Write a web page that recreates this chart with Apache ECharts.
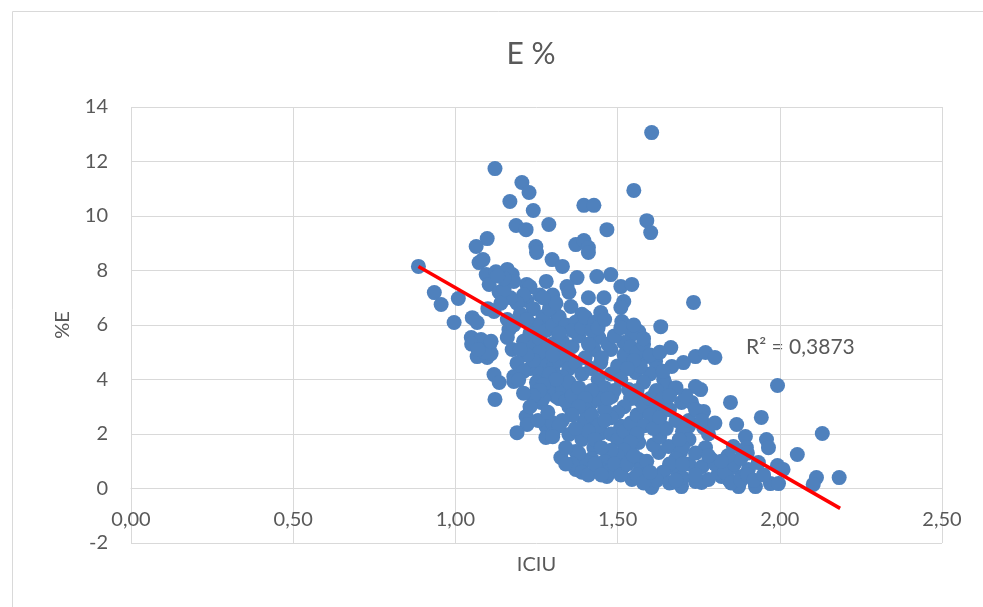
<!DOCTYPE html>
<html><head><meta charset="utf-8">
<script src="https://cdn.jsdelivr.net/npm/echarts@6/dist/echarts.min.js"></script>
<style>html,body{margin:0;padding:0;background:#fff}#c{width:983px;height:607px}</style>
</head><body><div id="c"></div>
<script>
var chartTitle = "E %";
var xName = "ICIU";
var yName = "%E";
var r2Text = "R\u00b2 = 0,3873";
var xTicks = [0, 0.5, 1, 1.5, 2, 2.5];
var yTicks = [-2, 0, 2, 4, 6, 8, 10, 12, 14];
var iciu = [
1.122,1.205,1.227,1.168,1.24,1.187,1.218,1.288,1.098,1.064,1.248,1.605,1.55,1.396,1.427,1.467,1.59,1.602,1.371,1.396,1.41,
0.886,0.935,0.956,1.009,0.996,1.052,1.067,1.049,1.079,1.104,1.067,1.098,1.110,1.119,1.18,1.119,1.073,1.095,1.104,1.125,1.135,1.16,1.175,1.22,1.25,1.085,1.165,1.16,1.175,
1.41,1.298,1.33,1.375,1.436,1.479,1.51,1.544,1.344,1.41,1.458,1.519,1.51,1.734,1.304,1.356,1.39,1.448,1.513,1.633,1.319,1.371,1.442,1.565,1.544,1.664,1.74,1.703,1.667,1.427,1.479,1.519,1.587,1.617,1.448,1.556,1.642,1.771,1.8,
1.993,1.848,1.756,1.765,1.943,1.867,1.765,1.894,1.959,1.965,2.131,2.054,1.771,1.857,1.897,1.79,1.934,1.993,2.01,2.113,2.103,2.183,1.759,1.82,1.873,1.925,1.971,1.996,1.842,1.882,1.811,1.851,1.903,1.78,
1.122,1.218,1.221,1.19,1.264,1.252,1.279,1.279,1.135,1.18,1.35,1.325,1.371,1.371,1.427,1.479,1.467,1.519,1.544,1.605,1.596,1.667,1.697,1.74,1.679,1.298,1.396,1.451,1.51,1.534,1.565,1.565,1.627,1.657,1.694,1.694,1.719,1.657,1.697,1.728,1.74,1.648,1.617,1.565,1.534,1.482,1.421,1.402,1.35,1.31,1.298,
1.22,1.24,1.26,1.28,1.30,1.27,1.25,1.23,1.21,1.24,1.26,1.28,1.30,1.32,1.34,1.33,1.31,1.29,1.27,1.25,1.23,1.26,1.28,1.30,1.32,1.34,1.36,1.35,1.33,1.31,1.29,1.27,1.25,1.33,1.35,1.37,1.30,1.28,1.26,1.24,1.22,1.20,1.19,1.21,1.29,1.31,1.35,1.27,1.23,1.21,1.19,1.17,1.15,1.14,1.16,1.18,1.20,1.22,1.18,1.15,1.13,1.37,1.38,1.36,1.32,1.30,1.29,1.31,1.27,1.26,1.24,1.32,1.34,1.36,1.38,1.39,1.40,1.41,1.39,1.40,1.43,1.42,
1.42,1.44,1.46,1.48,1.50,1.52,1.54,1.56,1.58,1.60,1.62,1.60,1.58,1.56,1.54,1.52,1.50,1.48,1.46,1.44,1.42,1.40,1.40,1.42,1.44,1.46,1.48,1.50,1.52,1.54,1.56,1.58,1.60,1.62,1.64,1.62,1.60,1.58,1.56,1.54,1.52,1.50,1.48,1.46,1.44,1.42,1.40,1.38,1.36,1.34,1.39,1.41,1.43,1.45,1.47,1.49,1.51,1.53,1.55,1.57,1.59,1.61,1.63,1.65,1.61,1.63,1.66,1.68,1.70,1.72,1.70,1.68,1.66,1.64,1.62,1.66,1.70,1.72,1.74,1.76,1.74,1.70,1.72,1.74,1.71,1.68,1.66,1.64,1.57,1.55,1.53,1.51,1.49,1.47,1.45,1.47,1.49,1.51,1.44,1.46,1.55,1.58,1.63,1.38,1.36,1.37,1.33,1.34,1.39,1.41,1.43,1.45,1.56,1.58,1.60,1.68,1.69,1.78,1.80,1.83,1.85,1.88,1.90,1.92,1.86,1.88,1.90,1.84,1.82,1.95,1.78,1.76,1.80,
1.195,1.21,1.23,1.255,1.30,1.32,1.30,1.285,1.05,1.09,1.07,1.11,1.10
];
var pctE = [
11.74,11.23,10.86,10.53,10.2,9.65,9.5,9.69,9.17,8.88,8.88,13.06,10.94,10.39,10.39,9.5,9.83,9.39,8.95,9.1,8.84,
8.15,7.19,6.75,6.97,6.09,6.27,6.09,5.54,5.47,5.21,4.84,4.81,4.95,4.18,4.11,6.5,8.29,7.85,7.49,7.95,7.2,8.04,7.85,7.49,8.66,8.4,5.83,5.54,5.1,
8.66,8.4,8.15,7.74,7.78,7.85,7.41,7.49,7.41,7.0,7.0,6.86,6.64,6.83,6.5,6.68,6.39,6.46,6.13,5.94,5.58,5.76,5.54,5.76,5.65,5.17,4.84,4.62,4.48,5.1,5.1,5.36,4.84,4.66,4.62,4.26,4.0,4.99,4.81,
3.78,3.16,3.63,2.83,2.61,2.35,2.24,1.91,1.8,1.5,2.02,1.25,1.5,1.54,1.5,1.06,0.95,0.84,0.7,0.4,0.15,0.4,0.22,0.44,0.07,0.07,0.18,0.18,0.33,0.44,0.59,0.77,0.7,0.33,
3.27,2.64,2.35,2.05,3.16,3.7,2.28,1.87,3.89,3.93,1.98,1.14,0.7,1.36,1.5,1.17,0.44,0.81,0.33,0.04,0.44,0.22,0.07,0.26,0.7,2.42,2.42,2.05,2.28,1.54,1.69,1.06,1.32,1.54,1.32,1.8,2.28,2.9,3.16,3.16,3.74,3.82,3.52,3.27,3.63,3.38,3.16,2.53,3.0,3.38,3.82,
6.9,6.6,7.1,7.6,7.1,6.3,6.0,5.7,5.4,5.2,5.5,5.8,6.0,6.3,6.0,5.4,5.1,4.8,4.6,4.9,4.4,4.2,4.0,4.4,4.7,4.9,5.2,4.4,4.1,3.7,3.5,3.3,3.9,3.6,3.9,4.6,5.3,5.1,5.0,4.7,4.9,5.1,4.6,4.3,6.6,6.8,7.2,7.0,7.4,7.1,6.8,7.0,7.3,6.8,6.2,6.0,6.4,6.2,7.6,7.7,7.8,6.1,5.6,5.8,5.7,4.9,4.2,4.0,3.8,3.6,3.4,3.3,3.2,3.4,3.7,4.2,4.8,5.3,5.9,6.3,6.1,5.8,
4.4,4.0,3.7,4.2,4.5,4.9,5.2,5.0,5.3,4.9,4.4,4.2,3.9,3.6,3.3,3.0,2.8,2.6,2.9,3.3,3.6,3.3,2.9,2.7,2.3,2.5,2.0,1.8,2.1,2.4,2.7,3.0,3.3,3.6,3.3,3.0,2.7,2.3,2.0,1.7,1.4,1.2,1.4,1.0,0.8,1.1,1.0,1.3,0.9,0.9,1.8,2.1,1.8,1.5,0.6,0.9,0.5,0.9,1.2,0.7,1.0,1.6,1.9,2.2,2.2,2.6,2.9,2.5,2.1,1.8,1.5,1.1,0.9,0.6,0.3,0.2,0.4,0.9,1.3,0.8,0.5,0.9,2.5,2.9,3.4,3.7,3.4,4.3,4.5,4.7,4.4,4.0,3.6,3.3,4.8,5.3,5.6,5.9,5.9,6.2,6.0,5.5,5.0,3.0,2.7,2.2,2.5,1.5,0.6,0.5,0.9,0.5,0.5,0.2,0.6,0.3,1.8,2.0,0.9,0.6,0.2,0.3,0.5,0.3,0.9,1.1,1.3,1.2,1.0,0.5,1.2,2.5,2.4,
3.98,3.5,3.0,2.5,2.0,2.3,1.9,2.8,5.3,5.0,5.1,5.4,6.6
];
var trendX = [0.886, 2.186];
var trendY = [8.15, -0.73];

var pts = iciu.map(function (x, i) { return [x, pctE[i]]; });
var trend = trendX.map(function (x, i) { return [x, trendY[i]]; });
var font = 'Lato, "Liberation Sans", sans-serif';
var gray = '#595959';
var gridTop = 107, gridBottom = 64, H = 607;
var plotH = H - gridTop - gridBottom;
var zeroOffset = plotH * (0 - (-2)) / (14 - (-2)); // shift of x axis from bottom (-2) to value 0

var chart = echarts.init(document.getElementById('c'));
chart.setOption({
  animation: false,
  textStyle: { fontFamily: font },
  title: {
    text: chartTitle, left: 526, top: 34, textAlign: 'center',
    textStyle: { fontFamily: font, fontSize: 30, fontWeight: 'normal', color: gray }
  },
  grid: { left: 131, right: 41, top: gridTop, bottom: gridBottom, containLabel: false, outerBoundsMode: 'none' },
  xAxis: {
    type: 'value', min: 0, max: 2.5, interval: 0.5,
    offset: -zeroOffset,
    name: xName, nameLocation: 'middle', nameGap: 66,
    nameTextStyle: { fontFamily: font, fontSize: 20, color: gray },
    axisLine: { show: true, onZero: false, lineStyle: { color: '#d9d9d9', width: 1 } },
    axisTick: { show: false },
    axisLabel: {
      margin: 21, fontSize: 20, color: gray, fontFamily: font,
      formatter: function (v) { return v.toFixed(2).replace('.', ','); }
    },
    splitLine: { show: true, lineStyle: { color: '#d9d9d9', width: 1 } }
  },
  yAxis: {
    type: 'value', min: -2, max: 14, interval: 2,
    name: yName, nameLocation: 'middle', nameGap: 58, nameRotate: 90,
    nameTextStyle: { fontFamily: font, fontSize: 20, color: gray },
    axisLine: { show: false },
    axisTick: { show: false },
    axisLabel: { margin: 23, fontSize: 20, color: gray, fontFamily: font },
    splitLine: { show: true, lineStyle: { color: '#d9d9d9', width: 1 } }
  },
  graphic: [
    { type: 'rect', left: 10, top: 9, shape: { width: 980, height: 610 },
      style: { fill: 'none', stroke: '#d9d9d9', lineWidth: 1 }, silent: true, z: -1 },
    { type: 'text', left: 746, top: 337,
      style: { text: r2Text, fontFamily: font, fontSize: 21, fill: gray } }
  ],
  series: [
    {
      type: 'scatter', data: pts, symbol: 'circle', symbolSize: 15,
      itemStyle: { color: '#4f81bd', opacity: 1 }, z: 2
    },
    {
      type: 'line', data: trend, symbol: 'none',
      lineStyle: { color: '#ff0000', width: 3.5 }, z: 3
    }
  ]
});
</script>
</body></html>
